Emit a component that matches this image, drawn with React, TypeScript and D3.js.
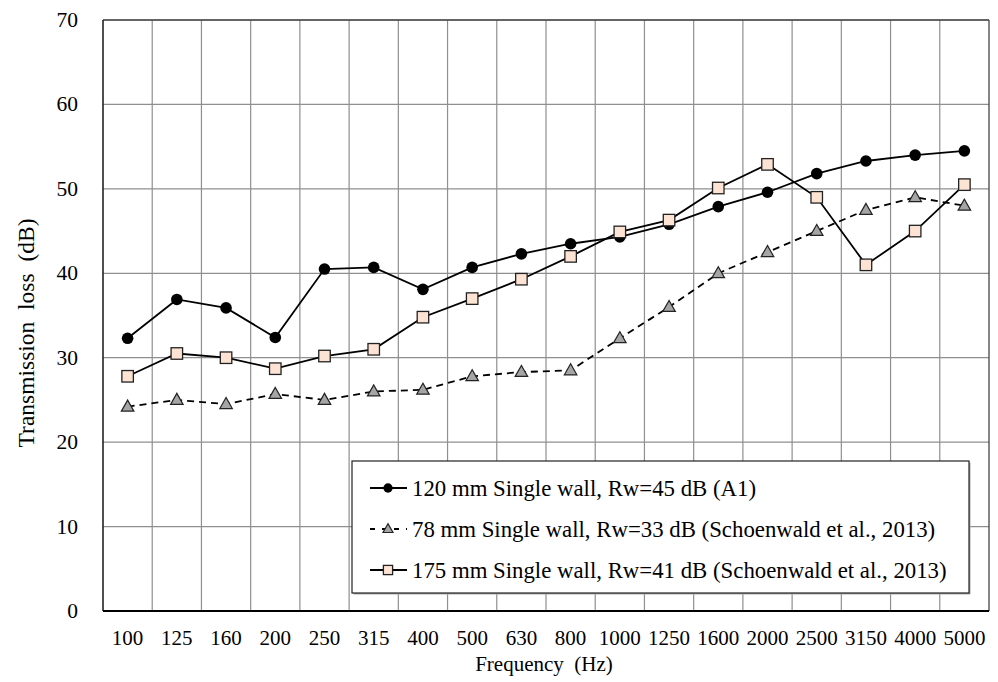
import React from "react";
import * as d3 from "d3";

const categories = ["100","125","160","200","250","315","400","500","630","800","1000","1250","1600","2000","2500","3150","4000","5000"];
const seriesA1 = [32.3,36.9,35.9,32.4,40.5,40.7,38.1,40.7,42.3,43.5,44.3,45.8,47.9,49.6,51.8,53.3,54.0,54.5];
const seriesS78 = [24.2,25.0,24.5,25.7,25.0,26.0,26.2,27.8,28.3,28.5,32.3,36.0,40.0,42.5,45.0,47.5,49.0,48.0];
const seriesS175 = [27.8,30.5,30.0,28.7,30.2,31.0,34.8,37.0,39.3,42.0,44.9,46.3,50.1,52.9,49.0,41.0,45.0,50.5];
const yTicks = [0,10,20,30,40,50,60,70];
const legendLabels = [
  "120 mm Single wall, Rw=45 dB (A1)",
  "78 mm Single wall, Rw=33 dB (Schoenwald et al., 2013)",
  "175 mm Single wall, Rw=41 dB (Schoenwald et al., 2013)",
];

const W = 998, H = 682;
const L = 103, R = 989, T = 20, B = 611;
const FONT = "'Liberation Serif', 'Times New Roman', serif";

function Marker({ kind, x, y, size = 1 }: { kind: string; x: number; y: number; size?: number }) {
  if (kind === "circle") return <circle cx={x} cy={y} r={5.8 * size} fill="#000" />;
  if (kind === "square") {
    const s = 11.5 * size;
    return <rect x={x - s / 2} y={y - s / 2} width={s} height={s} fill="#fde3d4" stroke="#222" strokeWidth={1.3} />;
  }
  const s = 12.5 * size;
  const h = s * 0.88;
  const pts = `${x},${y - h * 0.6} ${x - s / 2},${y + h * 0.4} ${x + s / 2},${y + h * 0.4}`;
  return <polygon points={pts} fill="#a5a5a5" stroke="#222" strokeWidth={1.2} />;
}

export default function App() {
  const x = d3.scaleBand<string>().domain(categories).range([L, R]);
  const y = d3.scaleLinear().domain([0, 70]).range([B, T]);
  const cx = (c: string) => (x(c) as number) + x.bandwidth() / 2;
  const line = d3.line<number>().x((_, i) => cx(categories[i])).y((d) => y(d));

  const series = [
    { data: seriesA1, kind: "circle", dash: undefined as string | undefined },
    { data: seriesS78, kind: "triangle", dash: "7,5" },
    { data: seriesS175, kind: "square", dash: undefined },
  ];
  const drawOrder = [1, 0, 2];

  const lg = { x: 352, y: 461, w: 617, h: 132 };
  const rowY = [488, 529, 570];

  return (
    <svg width={W} height={H} style={{ position: "absolute", left: 0, top: 0, background: "#fff" }}>
      {/* grid */}
      {yTicks.map((t) => (
        <line key={"gy" + t} x1={L} x2={R} y1={y(t)} y2={y(t)} stroke="#8f8f8f" strokeWidth={1.2} />
      ))}
      {categories.slice(1).map((c) => (
        <line key={"gx" + c} x1={x(c) as number} x2={x(c) as number} y1={T} y2={B} stroke="#8f8f8f" strokeWidth={1.2} />
      ))}
      {/* frame */}
      <line x1={L} x2={R} y1={T} y2={T} stroke="#444" strokeWidth={1.3} />
      <line x1={R} x2={R} y1={T} y2={B} stroke="#444" strokeWidth={1.3} />
      <line x1={L} x2={L} y1={T} y2={B} stroke="#222" strokeWidth={1.6} />
      <line x1={L} x2={R} y1={B} y2={B} stroke="#000" strokeWidth={2} />

      {/* series */}
      {drawOrder.map((si) => {
        const s = series[si];
        return (
          <g key={"s" + si}>
            <path d={line(s.data) || ""} fill="none" stroke="#000" strokeWidth={1.8} strokeDasharray={s.dash} />
            {s.data.map((v, i) => (
              <Marker key={i} kind={s.kind} x={cx(categories[i])} y={y(v)} />
            ))}
          </g>
        );
      })}

      {/* y ticks */}
      {yTicks.map((t) => (
        <text key={"yt" + t} x={78} y={y(t)} textAnchor="end" dominantBaseline="central" fontFamily={FONT} fontSize={21.5} fill="#000">
          {t}
        </text>
      ))}
      {/* x ticks */}
      {categories.map((c) => (
        <text key={"xt" + c} x={cx(c)} y={638} textAnchor="middle" dominantBaseline="central" fontFamily={FONT} fontSize={21} fill="#000">
          {c}
        </text>
      ))}
      <text x={544} y={664} textAnchor="middle" dominantBaseline="central" fontFamily={FONT} fontSize={21} fill="#000" style={{ whiteSpace: "pre" }}>
        {"Frequency  (Hz)"}
      </text>
      <text
        transform={`translate(26,333) rotate(-90)`}
        textAnchor="middle"
        dominantBaseline="central"
        fontFamily={FONT}
        fontSize={23.5}
        fill="#000"
        style={{ whiteSpace: "pre" }}
      >
        {"Transmission  loss  (dB)"}
      </text>

      {/* legend */}
      <rect x={lg.x + 1.5} y={lg.y + 1.5} width={lg.w} height={lg.h} fill="#aaa" />
      <rect x={lg.x} y={lg.y} width={lg.w} height={lg.h} fill="#fff" stroke="#222" strokeWidth={1.2} />
      {series.map((s, i) => (
        <g key={"lg" + i}>
          <line x1={370} x2={407} y1={rowY[i]} y2={rowY[i]} stroke="#000" strokeWidth={1.8} strokeDasharray={s.dash ? "5,7" : undefined} />
          <Marker kind={s.kind} x={388} y={rowY[i]} size={0.8} />
          <text x={412} y={rowY[i]} dominantBaseline="central" fontFamily={FONT} fontSize={22.8} fill="#000">
            {legendLabels[i]}
          </text>
        </g>
      ))}
    </svg>
  );
}
